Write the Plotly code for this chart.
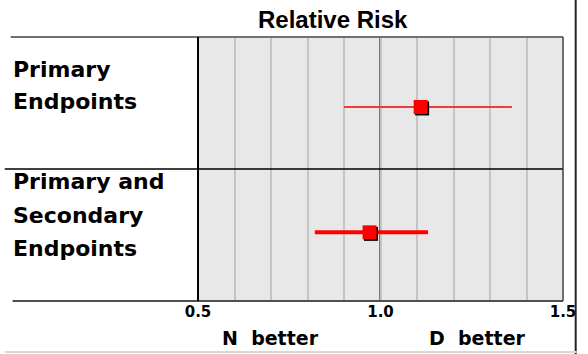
import plotly.graph_objects as go

# ---- data ----
row_labels = [["Primary", "Endpoints"], ["Primary and", "Secondary", "Endpoints"]]
rr = [1.11, 0.97]
ci_low = [0.90, 0.82]
ci_high = [1.36, 1.13]
row_pos = [1.47, 0.52]
tick_vals = [0.5, 1.0, 1.5]
tick_text = ["0.5", "1.0", "1.5"]
axis_notes = ["N  better", "D  better"]
title_text = "Relative Risk"

W, H = 588, 354
L, R, T, B = 198, 16, 37, 53
PW, PH = W - L - R, H - T - B
FONT_T = "Liberation Sans, Arial, sans-serif"
FONT = "DejaVu Sans, sans-serif"


def px(x):
    return (x - L) / PW


def py(y):
    return (H - B - y) / PH


fig = go.Figure()

line_w = [2, 4]
line_col = ["#f23a3a", "#ff0000"]
for i in range(len(rr)):
    fig.add_trace(go.Scatter(
        x=[ci_low[i], ci_high[i]], y=[row_pos[i], row_pos[i]], mode="lines",
        line=dict(color=line_col[i], width=line_w[i]), showlegend=False, hoverinfo="skip"))

# shadow
dx = 1.5 * (tick_vals[-1] - tick_vals[0]) / PW
dy = 1.5 * 2 / PH
fig.add_trace(go.Scatter(
    x=[v + dx for v in rr], y=[p - dy for p in row_pos], mode="markers",
    marker=dict(symbol="square", size=14, color="black"), showlegend=False, hoverinfo="skip"))
fig.add_trace(go.Scatter(
    x=rr, y=row_pos, mode="markers",
    marker=dict(symbol="square", size=14, color="#ff0000"), showlegend=False))

shapes = []
# 1.0 reference line
shapes.append(dict(type="line", xref="x", yref="paper", x0=1.0, x1=1.0, y0=0, y1=1,
                   line=dict(color="black", width=2), layer="below"))
# horizontal row lines
shapes.append(dict(type="line", xref="paper", yref="paper", x0=px(6), x1=1, y0=1, y1=1,
                   line=dict(color="#707070", width=2)))
shapes.append(dict(type="line", xref="paper", yref="y", x0=px(0), x1=1, y0=1, y1=1,
                   line=dict(color="black", width=1.5)))
shapes.append(dict(type="line", xref="paper", yref="paper", x0=px(8), x1=1, y0=0, y1=0,
                   line=dict(color="#505050", width=2)))
# plot area side borders
shapes.append(dict(type="line", xref="paper", yref="paper", x0=0, x1=0, y0=0, y1=1,
                   line=dict(color="black", width=2)))
shapes.append(dict(type="line", xref="paper", yref="paper", x0=1, x1=1, y0=0, y1=1,
                   line=dict(color="#404040", width=1.5)))
# image frame
shapes.append(dict(type="line", xref="paper", yref="paper", x0=px(585), x1=px(585), y0=py(0), y1=py(354),
                   line=dict(color="#222222", width=2)))
shapes.append(dict(type="line", xref="paper", yref="paper", x0=px(0), x1=px(586), y0=py(352), y1=py(352),
                   line=dict(color="#d8d8d8", width=2)))

ann = []
ann.append(dict(text="<b>" + title_text + "</b>", xref="paper", yref="paper", x=px(336), y=py(20),
                xanchor="center", yanchor="middle", showarrow=False,
                font=dict(family=FONT_T, size=24, color="black")))
line_y = [[69, 101], [181, 215, 248]]
for lines, ys in zip(row_labels, line_y):
    for t, yy in zip(lines, ys):
        ann.append(dict(text="<b>" + t + "</b>", xref="paper", yref="paper", x=px(6), y=py(yy),
                        xanchor="left", yanchor="middle", showarrow=False,
                        font=dict(family=FONT, size=22, color="black")))
for t, xx in zip(axis_notes, [272, 484]):
    ann.append(dict(text="<b>" + t + "</b>", xref="paper", yref="paper", x=px(xx), y=py(338),
                    xanchor="center", yanchor="middle", showarrow=False,
                    font=dict(family=FONT, size=19, color="black")))

fig.update_layout(
    width=W, height=H,
    margin=dict(l=L, r=R, t=T, b=B),
    paper_bgcolor="white", plot_bgcolor="#e8e8e8",
    shapes=shapes, annotations=ann,
    xaxis=dict(range=[tick_vals[0], tick_vals[-1]], tickvals=tick_vals,
               ticktext=["<b>" + t + "</b>" for t in tick_text],
               tickfont=dict(family=FONT, size=15, color="black"),
               showgrid=False, zeroline=False, showline=False, ticks="",
               minor=dict(dtick=0.1, tick0=0.5, showgrid=True, gridcolor="#c4c4c4", gridwidth=1.5),
               fixedrange=True),
    yaxis=dict(range=[0, 2], visible=False, fixedrange=True),
    showlegend=False,
)

fig.write_html("out.html", config=dict(displayModeBar=False),
               post_script="document.body.style.margin='0';document.body.style.overflow='hidden';")
